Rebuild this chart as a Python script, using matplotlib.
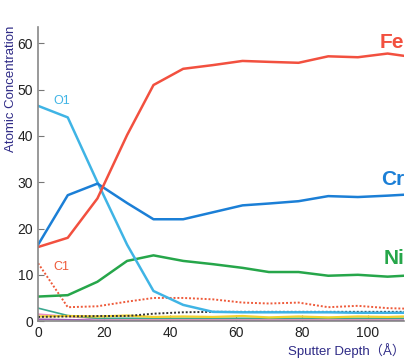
import matplotlib
matplotlib.use("Agg")
import matplotlib.pyplot as plt

plt.rcParams["font.family"] = ["Liberation Sans", "DejaVu Sans"]

depth = [0, 9, 18, 27, 35, 44, 53, 62, 70, 79, 88, 97, 106, 111]

fe = [16.0, 18.0, 26.5, 40.2, 51.0, 54.5, 55.3, 56.2, 56.0, 55.8, 57.2, 57.0, 57.8, 57.3]
cr = [16.5, 27.2, 29.7, 25.5, 22.0, 22.0, 23.5, 25.0, 25.4, 25.9, 27.0, 26.8, 27.1, 27.3]
o1 = [46.5, 44.0, 30.0, 16.5, 6.5, 3.5, 2.0, 1.9, 1.9, 1.9, 1.9, 1.8, 1.8, 1.8]
ni = [5.3, 5.6, 8.5, 13.0, 14.2, 13.0, 12.3, 11.5, 10.6, 10.6, 9.8, 10.0, 9.6, 9.8]
c1 = [12.5, 3.0, 3.2, 4.2, 5.0, 5.0, 4.7, 4.0, 3.8, 4.0, 3.0, 3.3, 2.8, 2.7]
blk = [0.9, 1.0, 1.1, 1.1, 1.6, 1.9, 2.0, 2.0, 2.0, 2.0, 2.0, 2.0, 2.0, 2.0]
teal = [2.8, 1.2, 0.6, 0.6, 0.6, 0.6, 0.6, 0.6, 0.6, 0.6, 0.6, 0.6, 0.6, 0.6]
yel = [1.0, 1.1, 1.0, 1.2, 0.9, 1.0, 0.9, 1.1, 0.8, 1.0, 0.8, 1.0, 0.9, 1.0]
pink = [1.5, 1.0, 0.5, 0.4, 0.4, 0.4, 0.4, 0.4, 0.4, 0.4, 0.4, 0.4, 0.4, 0.4]
purp = [0.4, 0.3, 0.2, 0.2, 0.2, 0.2, 0.2, 0.2, 0.2, 0.2, 0.2, 0.2, 0.2, 0.2]

NAVY = "#2e2a86"

fig = plt.figure(figsize=(4.14, 3.62), dpi=100)
ax = fig.add_axes([0.092, 0.113, 0.884, 0.812])

ax.plot(depth, purp, color="#9b59b6", lw=1.2)
ax.plot(depth, pink, color="#f08fc0", lw=1.2)
ax.plot(depth, teal, color="#3aa88f", lw=1.2)
ax.plot(depth, yel, color="#f2d22e", lw=1.6)
ax.plot(depth, blk, color="#333333", lw=1.4, ls=(0, (1, 1)))
ax.plot(depth, c1, color="#ee5a3a", lw=1.4, ls=(0, (1, 1)))
ax.plot(depth, ni, color="#26a64a", lw=1.8)
ax.plot(depth, o1, color="#3fb4e5", lw=1.8)
ax.plot(depth, cr, color="#1b7fd6", lw=1.8)
ax.plot(depth, fe, color="#f2503f", lw=1.8)

ax.set_xlim(0, 111)
ax.set_ylim(0, 63.5)
ax.set_xticks([0, 20, 40, 60, 80, 100])
ax.set_yticks([0, 10, 20, 30, 40, 50, 60])
ax.tick_params(direction="in", length=4, color="#777777", labelsize=10, labelcolor="#222222")
for s in ["top", "right"]:
    ax.spines[s].set_visible(False)
for s in ["left", "bottom"]:
    ax.spines[s].set_color("#888888")
    ax.spines[s].set_linewidth(1.2)

ax.text(111, 58.2, "Fe", color="#f2503f", fontsize=15, fontweight="bold", ha="right", va="bottom")
ax.text(111, 28.6, "Cr", color="#1b7fd6", fontsize=15, fontweight="bold", ha="right", va="bottom")
ax.text(111, 11.5, "Ni", color="#26a64a", fontsize=15, fontweight="bold", ha="right", va="bottom")
ax.text(4.5, 46.2, "O1", color="#3fb4e5", fontsize=9, va="bottom")
ax.text(4.5, 10.4, "C1", color="#ee5a3a", fontsize=9, va="bottom")

fig.text(0.012, 0.93, "Atomic Concentration", rotation=90, color=NAVY,
         fontsize=9.5, ha="left", va="top")
fig.text(0.978, 0.012, "Sputter Depth\uff08\u00c5\uff09", color=NAVY, fontsize=9.5,
         ha="right", va="bottom", family=["Liberation Sans", "Noto Sans CJK SC"])

fig.savefig("out.png", dpi=100)
